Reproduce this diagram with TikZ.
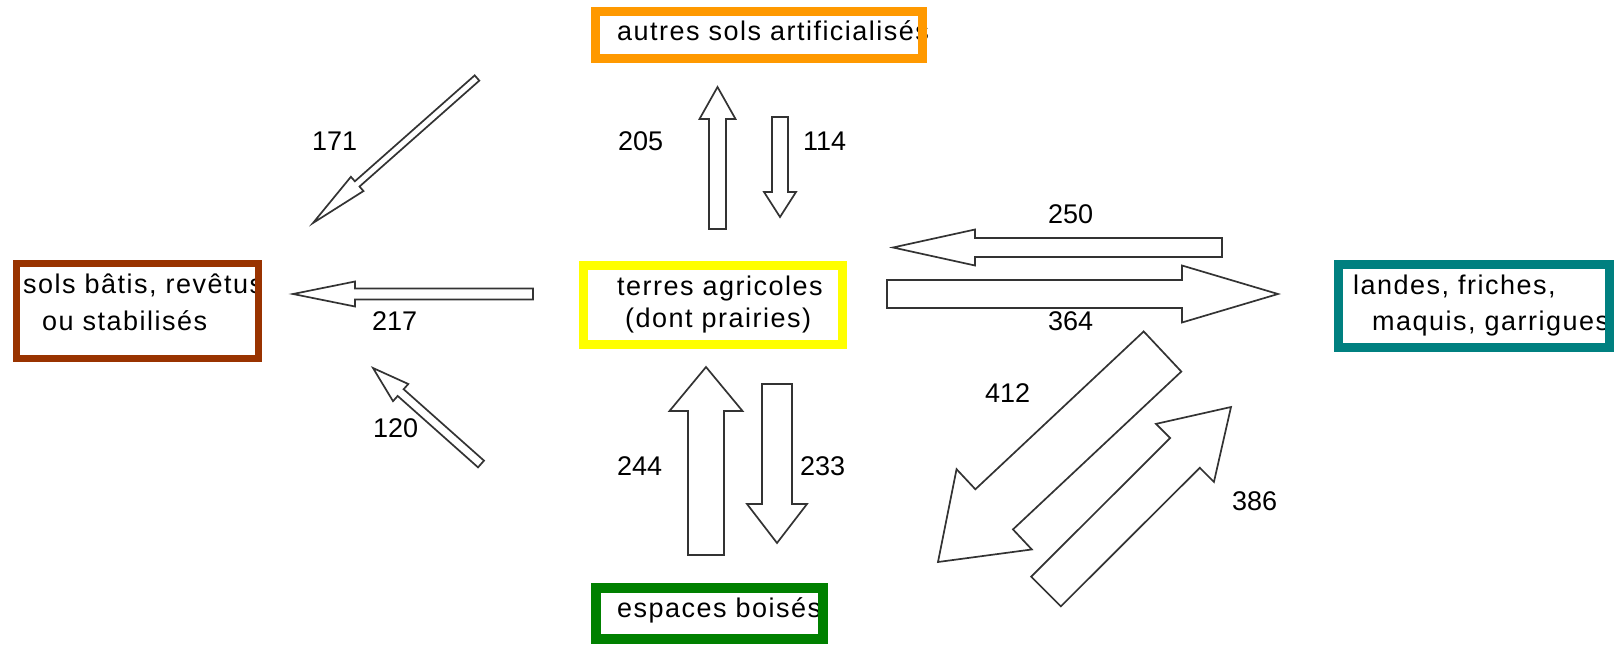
\documentclass[tikz,border=0pt]{standalone}
\usepackage{fontspec}
\setmainfont{Liberation Sans}[LetterSpace=5.5]
\newfontfamily\valfont{Liberation Sans}
\usepackage{tikz}
\usetikzlibrary{calc}
\definecolor{brickbrown}{RGB}{153, 51, 0}
\definecolor{orangebox}{RGB}{255, 153, 0}
\definecolor{yellowbox}{RGB}{255, 255, 0}
\definecolor{tealbox}{RGB}{0, 128, 128}
\definecolor{greenbox}{RGB}{0, 128, 0}

% block arrow: name, tail, tip, shaft half width, head half width, head length
\newcommand{\flowarrow}[6]{%
  \coordinate (#1-b) at ($(#3)!#6!(#2)$);
  \draw[flow] ($(#2)!#4!90:(#3)$) -- ($(#1-b)!#4!90:(#3)$) -- ($(#1-b)!#5!90:(#3)$) -- (#3)
    -- ($(#1-b)!#5!-90:(#3)$) -- ($(#1-b)!#4!-90:(#3)$) -- ($(#2)!#4!-90:(#3)$) -- cycle;
}

\begin{document}
\begin{tikzpicture}[x=1pt, y=-1pt,
    flow/.style={draw=black!80, line width=1.7pt, fill=white, line join=miter},
    box/.style={draw, line width=9pt, outer sep=0pt, inner sep=0pt, anchor=north west},
    lbl/.style={inner sep=0pt, anchor=base west, font=\fontsize{27}{32}\selectfont},
    val/.style={lbl, font=\valfont\fontsize{27}{32}\selectfont}]
    \useasboundingbox (0,0) rectangle (1616,645);

    % Texts of the land classes
    \node[lbl] (bati1) at (23,293) {sols bâtis, revêtus};
    \node[lbl] (bati2) at (42,330) {ou stabilisés};
    \node[lbl] (autres) at (617,40) {autres sols artificialisés};
    \node[lbl] (agri1) at (617,295) {terres agricoles};
    \node[lbl] (agri2) at (625,327) {(dont prairies)};
    \node[lbl] (landes1) at (1353,294) {landes, friches,};
    \node[lbl] (landes2) at (1372,330) {maquis, garrigues};
    \node[lbl] (boises) at (617,617) {espaces boisés};

    % Frames
    \node[box, draw=brickbrown, line width=7pt, minimum width=242pt, minimum height=95pt] (bati) at (16.5,263.5) {};
    \node[box, draw=orangebox, minimum width=327pt, minimum height=47pt] (artif) at (595.5,11.5) {};
    \node[box, draw=yellowbox, minimum width=259pt, minimum height=79pt] (agri) at (583.5,265.5) {};
    \node[box, draw=tealbox, minimum width=271pt, minimum height=83pt] (landes) at (1338.5,264.5) {};
    \node[box, draw=greenbox, line width=10pt, minimum width=227pt, minimum height=51pt] (bois) at (596,588) {};

    % Tails and tips of the flows
    \coordinate (t171) at (477,78);     \coordinate (p171) at (313,223);
    \coordinate (t217) at (533,294);    \coordinate (p217) at (293,294);
    \coordinate (t120) at (481,464);    \coordinate (p120) at (373,368);
    \coordinate (t205) at (717.5,229);  \coordinate (p205) at (717.5,87);
    \coordinate (t114) at (780,117);    \coordinate (p114) at (780,217);
    \coordinate (t244) at (706,555);    \coordinate (p244) at (706,367);
    \coordinate (t233) at (777,384);    \coordinate (p233) at (777,543);
    \coordinate (t250) at (1222,247.5); \coordinate (p250) at (893,247.5);
    \coordinate (t364) at (887,294);    \coordinate (p364) at (1278,294);
    \coordinate (t412) at (1162.5,351.5); \coordinate (p412) at (938,562);
    \coordinate (t386) at (1046,591.5); \coordinate (p386) at (1231,407);

    % Flows
    \flowarrow{f171}{t171}{p171}{3.5pt}{9.5pt}{59pt}
    \flowarrow{f217}{t217}{p217}{5.5pt}{12.5pt}{62pt}
    \flowarrow{f120}{t120}{p120}{4.5pt}{11.5pt}{37pt}
    \flowarrow{f205}{t205}{p205}{8.5pt}{18pt}{32pt}
    \flowarrow{f114}{t114}{p114}{8pt}{16pt}{25pt}
    \flowarrow{f244}{t244}{p244}{18pt}{36.5pt}{44pt}
    \flowarrow{f233}{t233}{p233}{15pt}{30pt}{39pt}
    \flowarrow{f250}{t250}{p250}{9.5pt}{18pt}{82pt}
    \flowarrow{f364}{t364}{p364}{14pt}{28.5pt}{96pt}
    \flowarrow{f412}{t412}{p412}{27.5pt}{55pt}{77pt}
    \flowarrow{f386}{t386}{p386}{21pt}{41pt}{65pt}

    % Values
    \node[val] (v171) at (312,150) {171};
    \node[val] (v205) at (618,150) {205};
    \node[val] (v114) at (803,150) {114};
    \node[val] (v217) at (372,330) {217};
    \node[val] (v120) at (373,437) {120};
    \node[val] (v244) at (617,475) {244};
    \node[val] (v233) at (800,475) {233};
    \node[val] (v250) at (1048,223) {250};
    \node[val] (v364) at (1048,330) {364};
    \node[val] (v412) at (985,402) {412};
    \node[val] (v386) at (1232,510) {386};
\end{tikzpicture}
\end{document}
